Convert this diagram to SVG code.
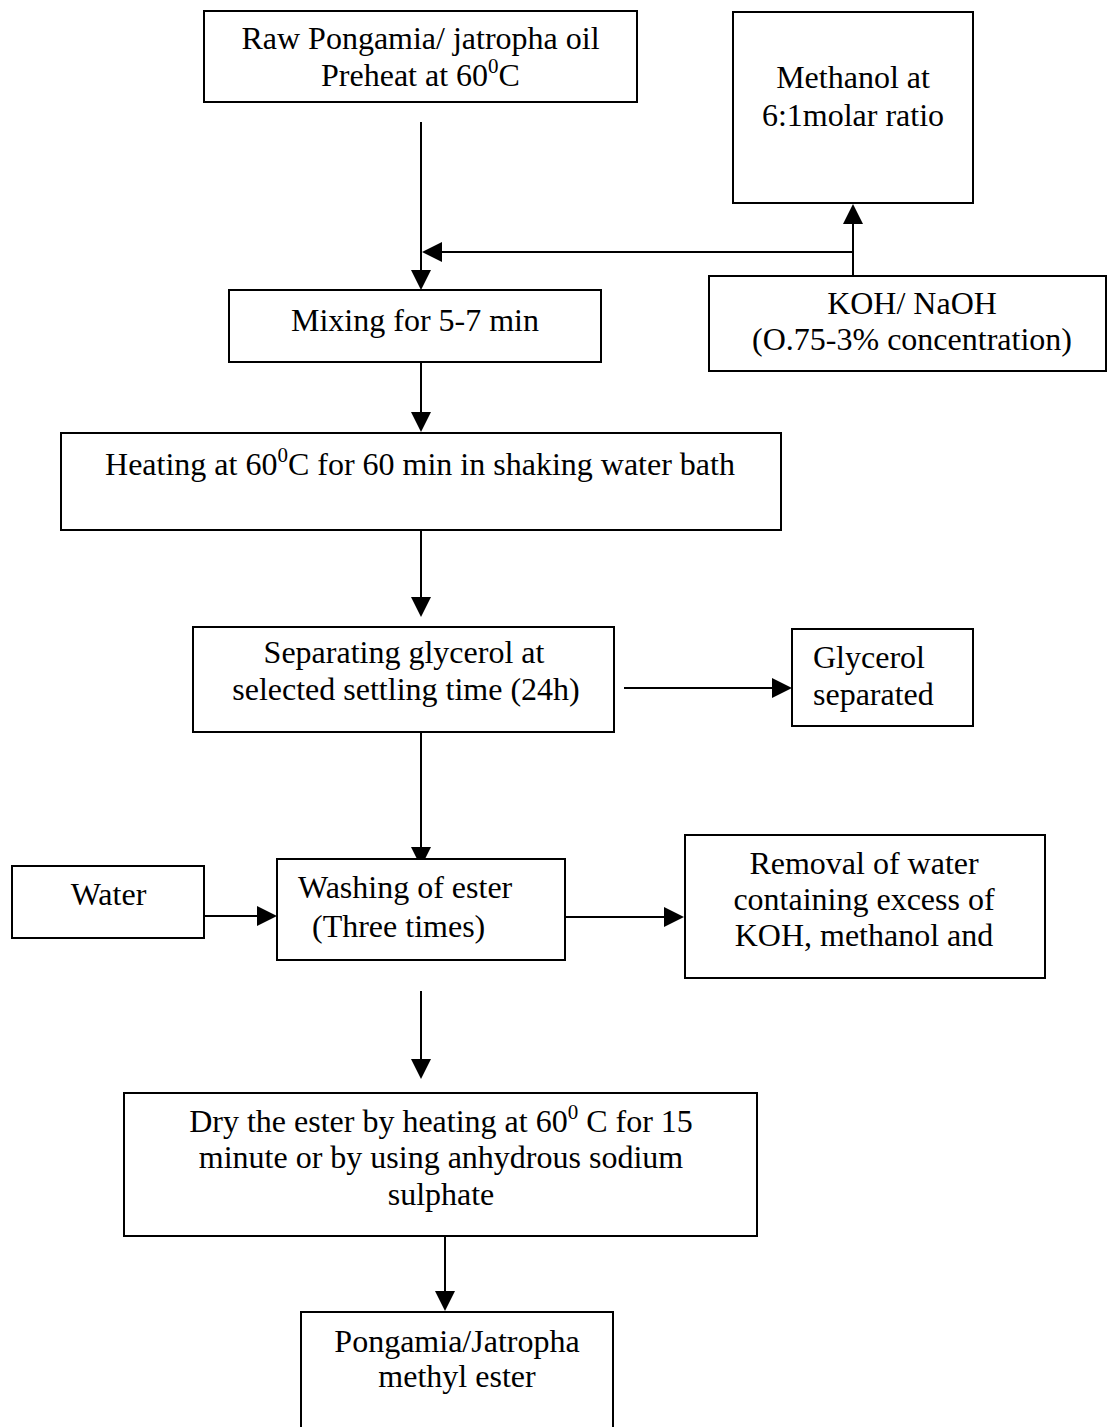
<svg xmlns="http://www.w3.org/2000/svg" width="1107" height="1427" viewBox="0 0 1107 1427">
<style>
.box{fill:#fff;stroke:#000;stroke-width:2}
.t{font-family:"Liberation Serif","Times New Roman",serif;font-size:32px;fill:#000}
.c{text-anchor:middle}
.sup{font-size:21px}
.ln{fill:none;stroke:#000;stroke-width:2}
</style>
<defs>
<marker id="ah" markerUnits="userSpaceOnUse" markerWidth="20" markerHeight="20" refX="18" refY="10" orient="auto">
<path d="M0,0 L20,10 L0,20 z" fill="#000"/>
</marker>
</defs>
<rect width="1107" height="1427" fill="#fff"/>

<g id="connectors">
<line class="ln" x1="421" y1="122" x2="421" y2="288" marker-end="url(#ah)"/>
<line class="ln" x1="853" y1="276" x2="853" y2="206" marker-end="url(#ah)"/>
<line class="ln" x1="853" y1="252" x2="424" y2="252" marker-end="url(#ah)"/>
<line class="ln" x1="421" y1="362" x2="421" y2="430" marker-end="url(#ah)"/>
<line class="ln" x1="421" y1="530" x2="421" y2="615" marker-end="url(#ah)"/>
<line class="ln" x1="624" y1="688" x2="790" y2="688" marker-end="url(#ah)"/>
<line class="ln" x1="421" y1="732" x2="421" y2="865" marker-end="url(#ah)"/>
<line class="ln" x1="204" y1="916" x2="275" y2="916" marker-end="url(#ah)"/>
<line class="ln" x1="565" y1="917" x2="682" y2="917" marker-end="url(#ah)"/>
<line class="ln" x1="421" y1="991" x2="421" y2="1077" marker-end="url(#ah)"/>
<line class="ln" x1="445" y1="1236" x2="445" y2="1309" marker-end="url(#ah)"/>
</g>

<g id="raw-oil">
<rect class="box" x="204" y="11" width="433" height="91"/>
<text class="t c" x="420.5" y="49">Raw Pongamia/ jatropha oil</text>
<text class="t c" x="420.5" y="86">Preheat at 60<tspan class="sup" dy="-13">0</tspan><tspan dy="13">C</tspan></text>
</g>

<g id="methanol">
<rect class="box" x="733" y="12" width="240" height="191"/>
<text class="t c" x="853" y="88">Methanol at</text>
<text class="t c" x="853" y="126">6:1molar ratio</text>
</g>

<g id="koh">
<rect class="box" x="709" y="276" width="397" height="95"/>
<text class="t c" x="912" y="314">KOH/ NaOH</text>
<text class="t c" x="912" y="350">(O.75-3% concentration)</text>
</g>

<g id="mixing">
<rect class="box" x="229" y="290" width="372" height="72"/>
<text class="t c" x="415" y="331">Mixing for 5-7 min</text>
</g>

<g id="heating">
<rect class="box" x="61" y="433" width="720" height="97"/>
<text class="t c" x="420" y="475">Heating at 60<tspan class="sup" dy="-13">0</tspan><tspan dy="13">C for 60 min in shaking water bath</tspan></text>
</g>

<g id="separating">
<rect class="box" x="193" y="627" width="421" height="105"/>
<text class="t c" x="404" y="663">Separating glycerol at</text>
<text class="t c" x="406" y="700">selected settling time (24h)</text>
</g>

<g id="glycerol">
<rect class="box" x="792" y="629" width="181" height="97"/>
<text class="t" x="813" y="668">Glycerol</text>
<text class="t" x="813" y="705">separated</text>
</g>

<g id="water">
<rect class="box" x="12" y="866" width="192" height="72"/>
<text class="t c" x="108.5" y="905">Water</text>
</g>

<g id="washing">
<rect class="box" x="277" y="859" width="288" height="101"/>
<text class="t" x="298" y="898">Washing of ester</text>
<text class="t" x="312" y="937">(Three times)</text>
</g>

<g id="removal">
<rect class="box" x="685" y="835" width="360" height="143"/>
<text class="t c" x="864" y="874">Removal of water</text>
<text class="t c" x="864" y="910">containing excess of</text>
<text class="t c" x="864" y="946">KOH, methanol and</text>
</g>

<g id="dry">
<rect class="box" x="124" y="1093" width="633" height="143"/>
<text class="t c" x="441" y="1132">Dry the ester by heating at 60<tspan class="sup" dy="-13">0</tspan><tspan dy="13"> C for 15</tspan></text>
<text class="t c" x="441" y="1168">minute or by using anhydrous sodium</text>
<text class="t c" x="441" y="1205">sulphate</text>
</g>

<g id="product">
<rect class="box" x="301" y="1312" width="312" height="130"/>
<text class="t c" x="457" y="1352">Pongamia/Jatropha</text>
<text class="t c" x="457" y="1387">methyl ester</text>
</g>
</svg>
